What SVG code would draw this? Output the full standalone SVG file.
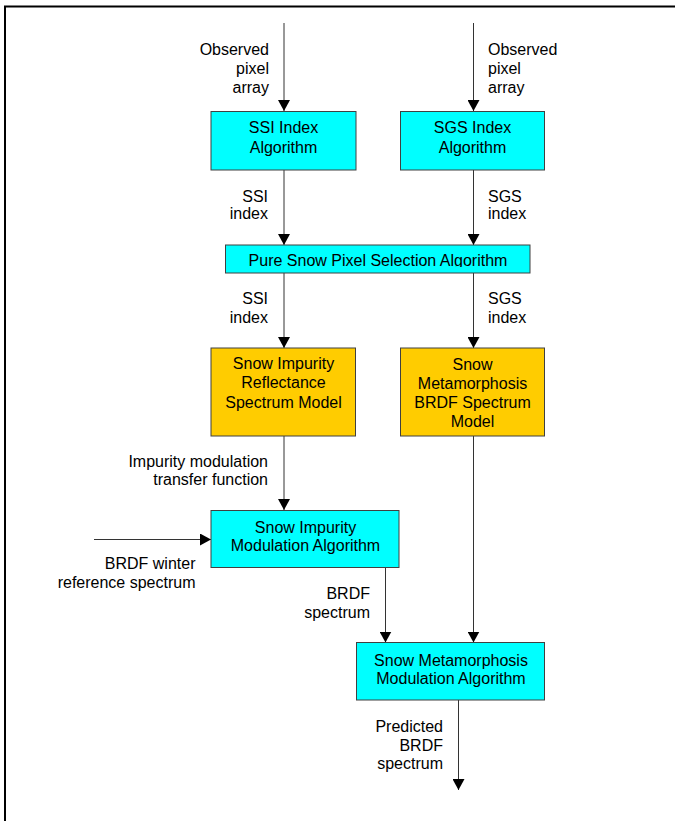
<svg xmlns="http://www.w3.org/2000/svg" width="675" height="821" viewBox="0 0 675 821">
<style>
text{font-family:"Liberation Sans",Arial,sans-serif;font-size:16px;fill:#000}
.c{text-anchor:middle}
.r{text-anchor:end}
.cy{fill:#00FFFF;stroke:#404040;stroke-width:1}
.or{fill:#FFCC00;stroke:#404040;stroke-width:1}
.ln{stroke:#333;stroke-width:1;fill:none;marker-end:url(#ah)}
</style>
<defs>
<marker id="ah" markerUnits="userSpaceOnUse" markerWidth="12" markerHeight="12" viewBox="0 0 12 12" refX="11" refY="6" orient="auto">
<path d="M0,0 L11,6 L0,12 Z" fill="#000"/>
</marker>
<clipPath id="clipPure"><rect x="226" y="245" width="304" height="22"/></clipPath>
</defs>
<rect x="0" y="0" width="675" height="821" fill="#fff"/>
<path d="M5,821 V6.5 H675" fill="none" stroke="#000" stroke-width="2"/>

<g id="connectors">
<line class="ln" x1="284" y1="23" x2="284" y2="111"/>
<line class="ln" x1="473.5" y1="23" x2="473.5" y2="111"/>
<line class="ln" x1="284" y1="170" x2="284" y2="245"/>
<line class="ln" x1="473.5" y1="170" x2="473.5" y2="245"/>
<line class="ln" x1="284" y1="273" x2="284" y2="348"/>
<line class="ln" x1="473.5" y1="273" x2="473.5" y2="348"/>
<line class="ln" x1="284" y1="436" x2="284" y2="510"/>
<line class="ln" x1="94" y1="539.5" x2="211" y2="539.5"/>
<line class="ln" x1="385.5" y1="568" x2="385.5" y2="642.5"/>
<line class="ln" x1="473.5" y1="436" x2="473.5" y2="642.5"/>
<line class="ln" x1="458.5" y1="700" x2="458.5" y2="790"/>
<g id="labels">
<text class="r" x="269" y="55">Observed</text>
<text class="r" x="269" y="74">pixel</text>
<text class="r" x="269" y="93">array</text>
<text x="488" y="55">Observed</text>
<text x="488" y="74">pixel</text>
<text x="488" y="93">array</text>
<text class="r" x="268" y="201.5">SSI</text>
<text class="r" x="268" y="219">index</text>
<text x="488" y="201.5">SGS</text>
<text x="488" y="219">index</text>
<text class="r" x="268" y="304">SSI</text>
<text class="r" x="268" y="322.5">index</text>
<text x="488" y="304">SGS</text>
<text x="488" y="322.5">index</text>
<text class="r" x="268" y="466.5">Impurity modulation</text>
<text class="r" x="268" y="485">transfer function</text>
<text class="r" x="195.5" y="569">BRDF winter</text>
<text class="r" x="195.5" y="588">reference spectrum</text>
<text class="r" x="370" y="599">BRDF</text>
<text class="r" x="370" y="617.5">spectrum</text>
<text class="r" x="443" y="731.5">Predicted</text>
<text class="r" x="443" y="750.5">BRDF</text>
<text class="r" x="443" y="769">spectrum</text>
</g>
</g>

<g id="ssi-index">
<rect class="cy" x="211" y="111.5" width="145" height="58.5"/>
<text class="c" x="283.5" y="133">SSI Index</text>
<text class="c" x="283.5" y="152.5">Algorithm</text>
</g>
<g id="sgs-index">
<rect class="cy" x="400.5" y="111.5" width="144" height="58.5"/>
<text class="c" x="472.5" y="133">SGS Index</text>
<text class="c" x="472.5" y="152.5">Algorithm</text>
</g>
<g id="pure-snow">
<rect class="cy" x="225.5" y="245" width="304.5" height="28"/>
<text class="c" x="378" y="265.5" clip-path="url(#clipPure)">Pure Snow Pixel Selection Algorithm</text>
</g>
<g id="impurity-model">
<rect class="or" x="211" y="348" width="144.5" height="88"/>
<text class="c" x="283.5" y="369">Snow Impurity</text>
<text class="c" x="283.5" y="388">Reflectance</text>
<text class="c" x="283.5" y="407.5">Spectrum Model</text>
</g>
<g id="metamorphosis-model">
<rect class="or" x="400.5" y="348" width="144" height="88"/>
<text class="c" x="472.5" y="369.5">Snow</text>
<text class="c" x="472.5" y="389">Metamorphosis</text>
<text class="c" x="472.5" y="408">BRDF Spectrum</text>
<text class="c" x="472.5" y="427">Model</text>
</g>
<g id="impurity-modulation">
<rect class="cy" x="211" y="510.5" width="188" height="57"/>
<text class="c" x="305.5" y="532.5">Snow Impurity</text>
<text class="c" x="305.5" y="550.5">Modulation Algorithm</text>
</g>
<g id="metamorphosis-modulation">
<rect class="cy" x="356.5" y="642.5" width="188" height="57.5"/>
<text class="c" x="451" y="665.5">Snow Metamorphosis</text>
<text class="c" x="451" y="683.5">Modulation Algorithm</text>
</g>
</svg>
